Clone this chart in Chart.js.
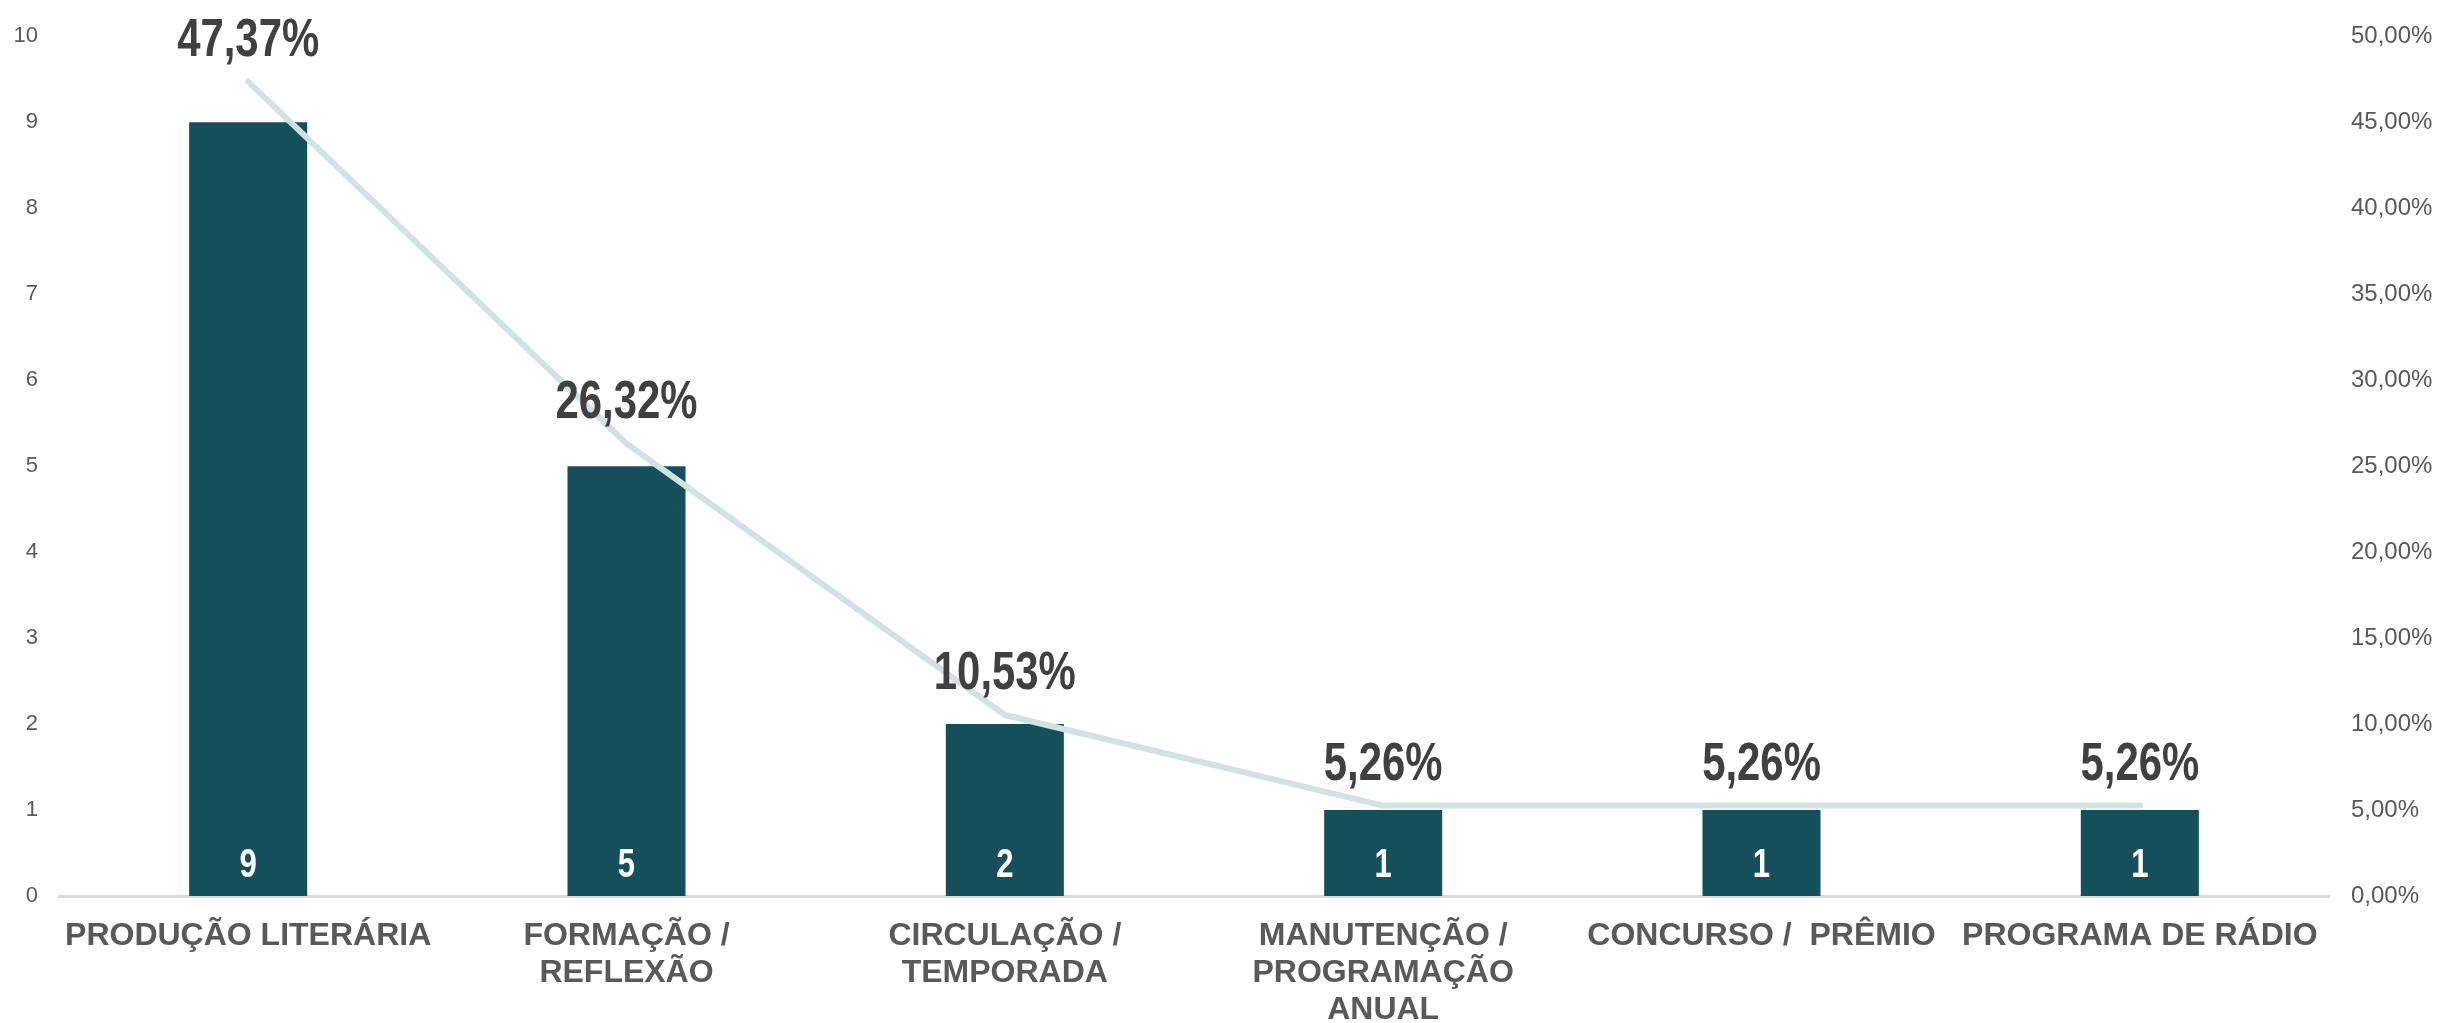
<!DOCTYPE html>
<html>
<head>
<meta charset="utf-8">
<script src="https://cdn.jsdelivr.net/npm/chart.js@4.4.1/dist/chart.umd.min.js"></script>
<style>
  html, body { margin: 0; padding: 0; background: #ffffff; }
  #wrap { width: 2440px; height: 1023px; position: relative; }
</style>
</head>
<body>
<div id="wrap"><canvas id="c" width="2440" height="1023"></canvas></div>
<script>
// ---- data ----
const categories = [
  ['PRODUÇÃO LITERÁRIA'],
  ['FORMAÇÃO /', 'REFLEXÃO'],
  ['CIRCULAÇÃO /', 'TEMPORADA'],
  ['MANUTENÇÃO /', 'PROGRAMAÇÃO', 'ANUAL'],
  ['CONCURSO /  PRÊMIO'],
  ['PROGRAMA DE RÁDIO']
];
const counts = [9, 5, 2, 1, 1, 1];
const shares = [0.4737, 0.2632, 0.1053, 0.0526, 0.0526, 0.0526];
const countTicks = [0, 1, 2, 3, 4, 5, 6, 7, 8, 9, 10];
const shareTicks = [0, 0.05, 0.10, 0.15, 0.20, 0.25, 0.30, 0.35, 0.40, 0.45, 0.50];

// ---- helpers ----
const pct = v => (v * 100).toFixed(2).replace('.', ',') + '%';
const labelFamily = "'Liberation Sans', Arial, sans-serif";

function drawNarrow(ctx, text, x, y, squeeze) {
  ctx.save();
  ctx.translate(x, y);
  ctx.scale(squeeze, 1);
  ctx.fillText(text, 0, 0);
  ctx.restore();
}

const labelPlugin = {
  id: 'valueLabels',
  afterDatasetsDraw(chart) {
    const ctx = chart.ctx;
    ctx.save();
    ctx.textAlign = 'center';
    ctx.textBaseline = 'alphabetic';
    // line labels (percentages above the line)
    const lineMeta = chart.getDatasetMeta(0);
    ctx.fillStyle = '#404040';
    ctx.font = 'bold 53px ' + labelFamily;
    lineMeta.data.forEach((pt, i) => {
      drawNarrow(ctx, pct(shares[i]), pt.x, pt.y - 26, 0.79);
    });
    // bar labels (counts inside bars)
    const barMeta = chart.getDatasetMeta(1);
    ctx.fillStyle = '#ffffff';
    ctx.font = 'bold 41px ' + labelFamily;
    barMeta.data.forEach((bar, i) => {
      drawNarrow(ctx, String(counts[i]), bar.x, bar.base - 19, 0.76);
    });
    ctx.restore();
  }
};

new Chart(document.getElementById('c'), {
  data: {
    labels: categories,
    datasets: [
      {
        type: 'line',
        data: shares,
        yAxisID: 'y2',
        borderColor: '#d1e2e4',
        borderWidth: 6,
        borderCapStyle: 'round',
        borderJoinStyle: 'round',
        tension: 0,
        pointRadius: 0,
        pointHoverRadius: 0,
        fill: false,
        order: 0
      },
      {
        type: 'bar',
        data: counts,
        yAxisID: 'y',
        backgroundColor: '#164f5c',
        borderWidth: 0,
        categoryPercentage: 1,
        barPercentage: 0.312,
        order: 1
      }
    ]
  },
  options: {
    responsive: false,
    animation: false,
    devicePixelRatio: 1,
    layout: { padding: { top: 33, left: 0, right: 0, bottom: 0 } },
    plugins: {
      legend: { display: false },
      tooltip: { enabled: false },
      title: { display: false }
    },
    scales: {
      x: {
        grid: { display: false, drawTicks: false },
        border: { display: true, color: '#d9d9d9', width: 3 },
        ticks: {
          autoSkip: false,
          maxRotation: 0,
          minRotation: 0,
          padding: 21,
          color: '#595959',
          font: { family: labelFamily, size: 32, weight: 'bold', lineHeight: 1.17 }
        },
        afterFit(scale) { scale.height = 127; }
      },
      y: {
        position: 'left',
        min: 0,
        max: 10,
        afterBuildTicks(scale) { scale.ticks = countTicks.map(v => ({ value: v })); },
        grid: { display: false, drawTicks: false },
        border: { display: false },
        ticks: {
          padding: 21,
          color: '#595959',
          font: { family: labelFamily, size: 22 },
          callback: v => String(v)
        },
        afterFit(scale) { scale.width = 59; }
      },
      y2: {
        position: 'right',
        min: 0,
        max: 0.5,
        afterBuildTicks(scale) { scale.ticks = shareTicks.map(v => ({ value: v })); },
        grid: { display: false, drawTicks: false },
        border: { display: false },
        ticks: {
          padding: 22,
          color: '#595959',
          font: { family: labelFamily, size: 24 },
          callback: v => pct(v)
        },
        afterFit(scale) { scale.width = 111; }
      }
    }
  },
  plugins: [labelPlugin]
});
</script>
</body>
</html>
